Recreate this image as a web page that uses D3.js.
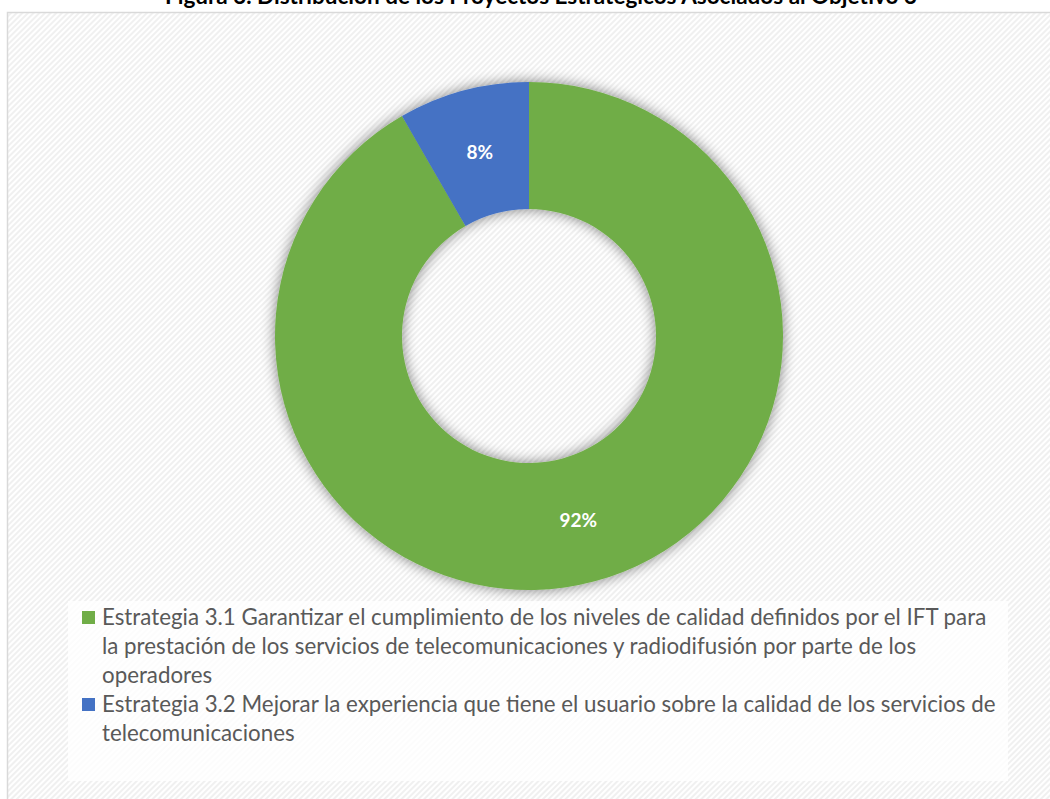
<!DOCTYPE html>
<html>
<head>
<meta charset="utf-8">
<title>Objetivo 3</title>
<style>
body { margin: 0; background: #fff; }
svg { display: block; }
</style>
<script src="https://d3js.org/d3.v7.min.js"></script>
</head>
<body>
<script>
var title = "Figura 3. Distribución de los Proyectos Estratégicos Asociados al Objetivo 3";
var categories = ["Estrategia 3.1", "Estrategia 3.2"];
var values = [11, 1];
var labels = ["92%", "8%"];
var colors = ["#70ad47", "#4472c4"];
var legendLines = [
  ["Estrategia 3.1 Garantizar el cumplimiento de los niveles de calidad definidos por el IFT para",
   "la prestación de los servicios de telecomunicaciones y radiodifusión por parte de los",
   "operadores"],
  ["Estrategia 3.2 Mejorar la experiencia que tiene el usuario sobre la calidad de los servicios de",
   "telecomunicaciones"]
];

var W = 1050, H = 799;
var svg = d3.select("body").append("svg").attr("width", W).attr("height", H);
var defs = svg.append("defs");

// fine diagonal hatch background
var pat = defs.append("pattern")
    .attr("id", "hatch")
    .attr("width", 4).attr("height", 4)
    .attr("patternUnits", "userSpaceOnUse")
    .attr("patternTransform", "rotate(45)");
pat.append("rect").attr("width", 4).attr("height", 4).attr("fill", "#ffffff");
pat.append("rect").attr("width", 2).attr("height", 4).attr("fill", "#f0f0f0");

var shadow = defs.append("filter").attr("id", "shadow")
    .attr("x", "-20%").attr("y", "-20%").attr("width", "140%").attr("height", "140%");
shadow.append("feGaussianBlur").attr("in", "SourceAlpha").attr("stdDeviation", 7);
shadow.append("feOffset").attr("dx", 0).attr("dy", 0).attr("result", "blur");
shadow.append("feComponentTransfer").append("feFuncA").attr("type", "linear").attr("slope", 0.5);
var merge = shadow.append("feMerge");
merge.append("feMergeNode");
merge.append("feMergeNode").attr("in", "SourceGraphic");

svg.append("rect")
    .attr("x", 7.5).attr("y", 12.5)
    .attr("width", 1100).attr("height", 900)
    .attr("fill", "url(#hatch)")
    .attr("stroke", "#d9d9d9")
    .attr("stroke-width", 1.5);

// title (cut at the top like the original)
var t = svg.append("text")
    .attr("x", 541).attr("y", 4)
    .attr("text-anchor", "middle")
    .attr("font-family", "Lato, sans-serif")
    .attr("font-weight", "bold")
    .attr("font-size", 17)
    .attr("fill", "#000")
    .text(title);
var tw = t.node().getComputedTextLength();
t.attr("font-size", 17 * 752 / tw);

// donut
var cx = 529, cy = 336, rOut = 254, rIn = 127;
var pie = d3.pie().sort(null).value(function(d) { return d; });
var arc = d3.arc().innerRadius(rIn).outerRadius(rOut);
var arcs = pie(values);

var g = svg.append("g").attr("transform", "translate(" + cx + "," + cy + ")");
g.append("g").attr("filter", "url(#shadow)")
  .selectAll("path")
  .data(arcs)
  .enter().append("path")
    .attr("d", arc)
    .attr("fill", function(d, i) { return colors[i]; });

g.selectAll("text.lbl")
  .data(arcs)
  .enter().append("text")
    .attr("class", "lbl")
    .attr("transform", function(d) { return "translate(" + arc.centroid(d) + ")"; })
    .attr("text-anchor", "middle")
    .attr("dy", "0.35em")
    .attr("font-family", "Lato, sans-serif")
    .attr("font-weight", "bold")
    .attr("font-size", 19)
    .attr("fill", "#fff")
    .text(function(d, i) { return labels[i]; });

// legend
svg.append("rect")
    .attr("x", 68).attr("y", 601)
    .attr("width", 940).attr("height", 180)
    .attr("fill", "#fff").attr("fill-opacity", 0.8);

var leg = svg.append("g");
var fs = 20;
var probe = leg.append("text").attr("font-family", "Lato, sans-serif").attr("font-size", fs).text(legendLines[0][0]);
fs = fs * 885 / probe.node().getComputedTextLength();
probe.remove();

var lineH = 29, y0 = 625, row = 0;
legendLines.forEach(function(lines, i) {
  leg.append("rect")
      .attr("x", 82).attr("y", y0 + row * lineH - 14)
      .attr("width", 13).attr("height", 13)
      .attr("fill", colors[i]);
  lines.forEach(function(l) {
    leg.append("text")
        .attr("x", 102).attr("y", y0 + row * lineH)
        .attr("font-family", "Lato, sans-serif")
        .attr("font-size", fs)
        .attr("fill", "#595959")
        .text(l);
    row++;
  });
});
</script>
</body>
</html>
